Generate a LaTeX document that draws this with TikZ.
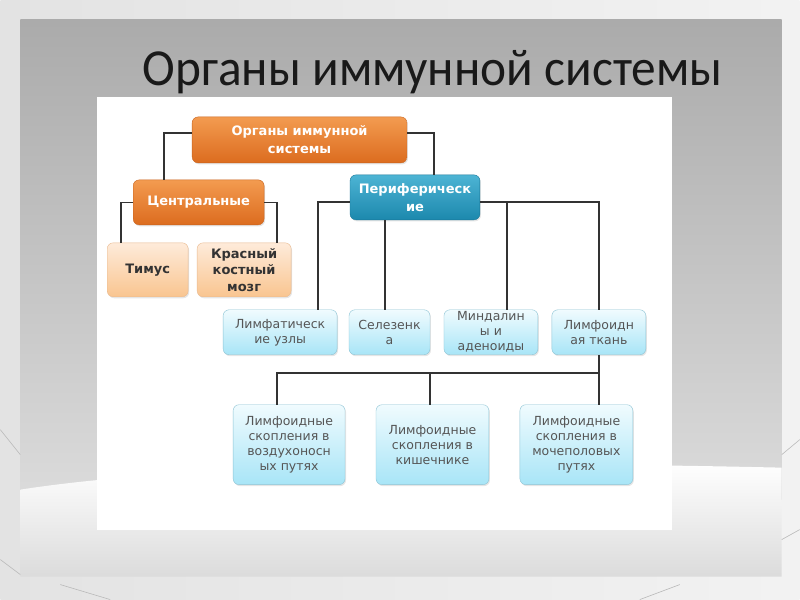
\documentclass[tikz,border=0pt]{standalone}
\usepackage{fontspec}
\setmainfont{DejaVu Sans}
\newfontfamily\ttlfont{Carlito}
\usetikzlibrary{shadows}
\definecolor{orT}{HTML}{F39B50}
\definecolor{orB}{HTML}{DC6C1F}
\definecolor{orD}{HTML}{C8641F}
\definecolor{pcT}{HTML}{FEEBDA}
\definecolor{pcB}{HTML}{F9C590}
\definecolor{pcD}{HTML}{E9BA90}
\definecolor{tlT}{HTML}{4DB4D4}
\definecolor{tlB}{HTML}{1C88AD}
\definecolor{tlD}{HTML}{1A7798}
\definecolor{blT}{HTML}{F0FBFE}
\definecolor{blB}{HTML}{A8E5F7}
\definecolor{blD}{HTML}{8EC4D5}
\definecolor{txG}{HTML}{555555}
\tikzset{
  orgbox/.style={rounded corners=6pt,align=center,inner sep=1pt,
    drop shadow={shadow xshift=1pt,shadow yshift=-1.5pt,opacity=0.2}},
  orbox/.style={orgbox,draw=orD,top color=orT,bottom color=orB,text=white,
    font=\bfseries\fontsize{13}{18}\selectfont},
  pchbox/.style={orgbox,draw=pcD,top color=pcT,bottom color=pcB,text=black!80,
    font=\bfseries\fontsize{13}{16.5}\selectfont},
  tlbox/.style={orgbox,draw=tlD,top color=tlT,bottom color=tlB,text=white,
    font=\bfseries\fontsize{13}{18}\selectfont},
  bluebox/.style={orgbox,draw=blD,top color=blT,bottom color=blB,text=txG,
    font=\fontsize{12.5}{15}\selectfont},
  conn/.style={draw=black!80,line width=1.6pt}
}
\begin{document}
\begin{tikzpicture}[x=1pt,y=-1pt]
% slide background
\shade[left color=gray!22,right color=gray!10] (0,0) rectangle (800,600);
\shade[top color=gray!66,bottom color=gray!28] (20,20) rectangle (782,500);
\shade[top color=white,bottom color=gray!28] (20,490) .. controls (200,462) and (520,462) .. (782,468)
  -- (782,577) -- (20,577) -- cycle;
\draw[gray!55,line width=0.6pt] (0,430) -- (20,455) (0,560) -- (20,575) (60,585) -- (110,600)
  (782,455) -- (800,440) (782,540) -- (800,530) (680,585) -- (640,600);
\fill[white] (97,97) rectangle (672,530);
\node[font=\ttlfont\fontsize{52}{56}\selectfont,text=black!90] (TTL) at (432.5,72)
  {\scalebox{0.95}[1]{Органы иммунной системы}};
% tree
\node[orbox,minimum width=215pt,minimum height=46pt] (OS1) at (299.5,140) {Органы иммунной\\системы};
\node[orbox,minimum width=131pt,minimum height=45pt] (OS2) at (198.5,202.5) {Центральные};
\node[tlbox,minimum width=130pt,minimum height=45pt] (OS3) at (415,197.5) {Периферическ\\ие};
\node[pchbox,minimum width=81pt,minimum height=54pt] (OS21) at (147.5,270) {Тимус};
\node[pchbox,minimum width=94pt,minimum height=54pt] (OS22) at (244,270) {Красный\\костный\\мозг};
\node[bluebox,minimum width=114pt,minimum height=45pt] (OS31) at (280,332.5) {Лимфатическ\\ие узлы};
\node[bluebox,minimum width=81pt,minimum height=45pt] (OS32) at (389.5,332.5) {Селезенк\\а};
\node[bluebox,minimum width=94pt,minimum height=45pt] (OS33) at (491,332.5) {Миндалин\\ы и\\аденоиды};
\node[bluebox,minimum width=94pt,minimum height=45pt] (OS34) at (599,332.5) {Лимфоидн\\ая ткань};
\node[bluebox,minimum width=112pt,minimum height=80pt] (OS41) at (289,445) {Лимфоидные\\скопления в\\воздухоносн\\ых путях};
\node[bluebox,minimum width=113pt,minimum height=80pt] (OS42) at (432.5,445) {Лимфоидные\\скопления в\\кишечнике};
\node[bluebox,minimum width=113pt,minimum height=80pt] (OS43) at (576.5,445) {Лимфоидные\\скопления в\\мочеполовых\\путях};
% connectors
\coordinate (S1) at ([xshift=-4.5pt]OS32.north);
\coordinate (J1) at ([yshift=-18pt]OS34.south);
\draw[conn] ([yshift=7pt]OS1.west) -| ([xshift=-34.5pt]OS2.north);
\draw[conn] ([yshift=7pt]OS1.east) -| ([xshift=19pt]OS3.north);
\draw[conn] (OS2.west) -| ([xshift=-26.5pt]OS21.north);
\draw[conn] (OS2.east) -| ([xshift=33pt]OS22.north);
\draw[conn] ([yshift=-4.5pt]OS3.west) -| ([xshift=38pt]OS31.north);
\draw[conn] ([yshift=-4.5pt]OS3.east) -| (OS34.north);
\draw[conn] ([xshift=16pt]OS33.north) |- ([yshift=-4.5pt]OS3.east);
\draw[conn] (S1) -- (S1 |- OS3.south);
\draw[conn] (OS34.south) -- (J1) -| ([xshift=-12pt]OS41.north);
\draw[conn] (J1) -- (J1 |- OS43.north);
\draw[conn] ([xshift=-2.5pt]OS42.north) |- (J1);
\useasboundingbox (0,0) rectangle (800,600);
\end{tikzpicture}
\end{document}
